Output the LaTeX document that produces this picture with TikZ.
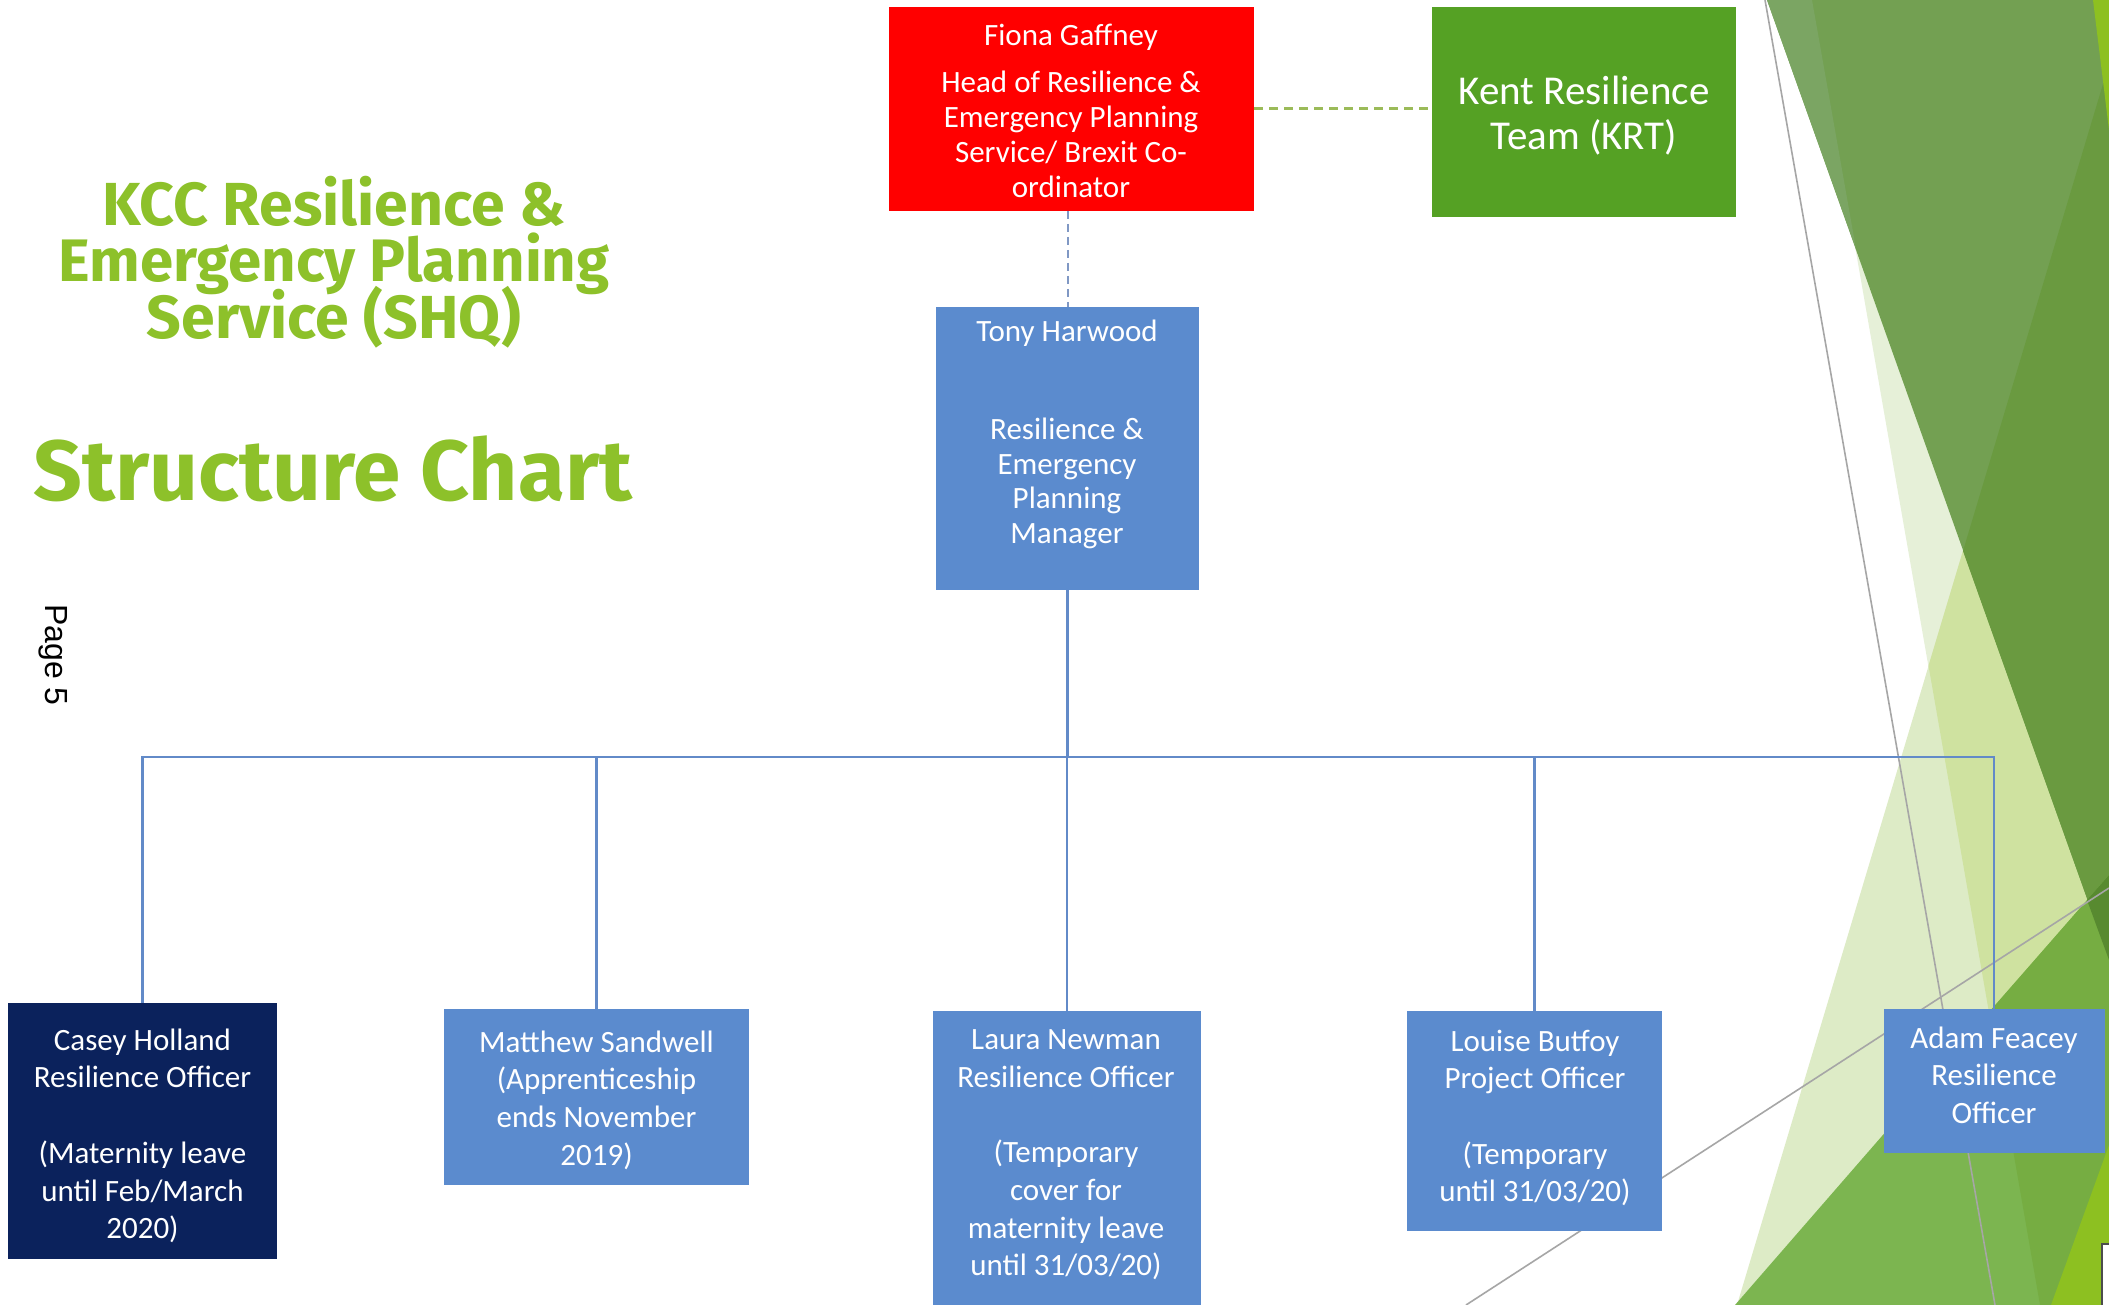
\documentclass[tikz,border=0pt]{standalone}
\usepackage{fontspec}
\usepackage{graphicx}
\setmainfont{Carlito}
\newfontfamily\titlefont{Fira Sans}
\newfontfamily\pagefont{Liberation Sans}
\definecolor{boxblue}{RGB}{91,139,206}
\definecolor{linkblue}{RGB}{98,138,200}
\definecolor{dashblue}{RGB}{128,152,196}
\definecolor{navy}{RGB}{11,34,92}
\definecolor{krtgreen}{RGB}{85,161,36}
\definecolor{titlegreen}{RGB}{141,193,42}
\definecolor{dashgreen}{RGB}{155,187,89}
\definecolor{paleg}{RGB}{230,240,216}
\definecolor{lightg}{RGB}{221,235,198}
\definecolor{midlightg}{RGB}{207,226,160}
\definecolor{mutedg}{RGB}{115,160,82}
\definecolor{mutedlg}{RGB}{123,165,99}
\definecolor{darkg}{RGB}{106,154,64}
\definecolor{brightg}{RGB}{124,181,80}
\definecolor{brightpg}{RGB}{118,173,66}
\definecolor{deepg}{RGB}{88,138,48}
\definecolor{yellowg}{RGB}{141,192,33}
\begin{document}
\begin{tikzpicture}[x=1pt,y=-1pt,
  box/.style={draw=none,inner sep=0pt,outer sep=0pt},
  bluebox/.style={box,fill=boxblue},
  btext/.style={text=white,align=center,inner sep=0pt,anchor=north,font=\fontsize{31pt}{37.7pt}\selectfont},
  conn/.style={draw=linkblue,line width=2.6pt},
  thinline/.style={draw=black!35,line width=1.6pt}]
\clip (0,0) rectangle (2109,1305);
\fill[white] (0,0) rectangle (2109,1305);
% background facets
\fill[paleg] (1812,0) -- (2109,0) -- (2109,1305) -- (2040,1305) -- cycle;
\fill[lightg] (2109,64) -- (2109,1305) -- (1737,1305) -- cycle;
\fill[midlightg] (2109,64) -- (1928.5,665.7) -- (2040,1305) -- (2109,1305) -- cycle;
\fill[mutedg] (1767,0) -- (2109,0) -- (2109,960) -- cycle;
\fill[mutedlg] (1767,0) -- (1812,0) -- (1856,249) -- cycle;
\fill[darkg] (2109,64) -- (1963,551) -- (2109,960) -- cycle;
\fill[brightg] (2109,875) -- (2109,1305) -- (1735,1305) -- cycle;
\fill[brightpg] (2109,875) -- (1989,1012) -- (2040,1305) -- (2109,1305) -- cycle;
\fill[deepg] (2109,875) -- (2087,900) -- (2109,960) -- cycle;
\fill[yellowg] (2109,1145) -- (2051,1305) -- (2109,1305) -- cycle;
\fill[yellowg] (2093,0) -- (2109,0) -- (2109,130) -- cycle;
\draw[thinline] (1765,0) -- (1995,1305);
\draw[thinline] (2109,888) -- (1466,1305);
\draw[draw=black!70,fill=white,line width=1.2pt] (2102,1244) rectangle (2120,1320);
% titles
\node[anchor=base,text=titlegreen,inner sep=0pt] (t1) at (334,226) {\resizebox{463pt}{!}{\titlefont\bfseries KCC Resilience \&}};
\node[anchor=base,text=titlegreen,inner sep=0pt] (t2) at (334,282) {\resizebox{551pt}{!}{\titlefont\bfseries Emergency Planning}};
\node[anchor=base,text=titlegreen,inner sep=0pt] (t3) at (334,339) {\resizebox{374pt}{!}{\titlefont\bfseries Service (SHQ)}};
\node[anchor=base,text=titlegreen,inner sep=0pt] (t4) at (333,500) {\resizebox{598pt}{!}{\titlefont\bfseries Structure Chart}};
\node[rotate=-90,inner sep=0pt,font=\pagefont\fontsize{32pt}{36pt}\selectfont] (page) at (53,655) {Page 5};
% boxes
\node[box,fill=red,minimum width=365pt,minimum height=204pt] (fiona) at (1071.5,109) {};
\node[box,fill=krtgreen,minimum width=304pt,minimum height=210pt] (krt) at (1584,112) {};
\node[bluebox,minimum width=263pt,minimum height=283pt] (tony) at (1067.5,448.5) {};
\node[box,fill=navy,minimum width=269pt,minimum height=256pt] (casey) at (142.5,1131) {};
\node[bluebox,minimum width=305pt,minimum height=176pt] (matthew) at (596.5,1097) {};
\node[bluebox,minimum width=268pt,minimum height=300pt] (laura) at (1067,1161) {};
\node[bluebox,minimum width=255pt,minimum height=220pt] (louise) at (1534.5,1121) {};
\node[bluebox,minimum width=221pt,minimum height=144pt] (adam) at (1994,1081) {};
% connectors
\coordinate (bus) at (1067.5,757);
\draw[dashgreen,line width=3pt,dash pattern=on 9pt off 6pt] (fiona.east) -- (fiona.east -| krt.west);
\draw[dashblue,line width=2pt,dash pattern=on 8pt off 5pt] (fiona.south -| tony.north) -- (tony.north);
\draw[conn] (tony.south) -- (bus);
\draw[conn] (casey.north) -- (casey.north |- bus) -- (adam.north |- bus) -- (adam.north);
\draw[conn] (matthew.north) -- (matthew.north |- bus);
\draw[conn] (laura.north) -- (laura.north |- bus);
\draw[conn] (louise.north) -- (louise.north |- bus);
% texts
\node[btext,font=\fontsize{31pt}{35pt}\selectfont] (fiona-t) at (1071,23.5) {Fiona Gaffney\\[12pt]Head of Resilience \&\\Emergency Planning\\Service/ Brexit Co-\\ordinator};
\node[btext,font=\fontsize{41pt}{44.5pt}\selectfont] (krt-t) at (1584,76) {Kent Resilience\\Team (KRT)};
\node[btext,font=\fontsize{31pt}{34.5pt}\selectfont] (tony-t) at (1067,320) {Tony Harwood\\[63.5pt]Resilience \&\\Emergency\\Planning\\Manager};
\node[btext] (casey-t) at (142.5,1028.5) {Casey Holland\\Resilience Officer\\[37.7pt](Maternity leave\\until Feb/March\\2020)};
\node[btext] (matthew-t) at (596.5,1030.5) {Matthew Sandwell\\(Apprenticeship\\ends November\\2019)};
\node[btext] (laura-t) at (1066,1029.5) {Laura Newman\\Resilience Officer\\[37.7pt](Temporary\\cover for\\maternity leave\\until 31/03/20)};
\node[btext] (louise-t) at (1535,1029.5) {Louise Butfoy\\Project Officer\\[37.7pt](Temporary\\until 31/03/20)};
\node[btext] (adam-t) at (1994,1026.5) {Adam Feacey\\Resilience\\Officer};
\end{tikzpicture}
\end{document}
